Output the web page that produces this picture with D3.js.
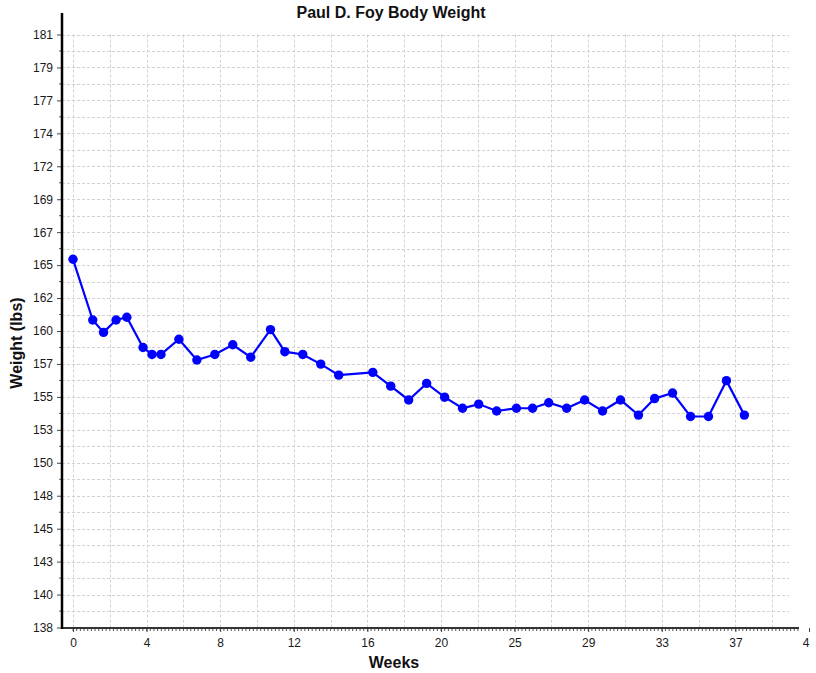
<!DOCTYPE html>
<meta charset="utf-8">

<!-- Load d3.js -->
<script src="https://d3js.org/d3.v7.min.js"></script>

<style>
  body { margin: 0; background: #fff; }
  text { font-family: "Liberation Sans", Arial, sans-serif; }
</style>

<!-- Create a div where the graph will take place -->
<div id="my_dataviz"></div>

<script>

// weekly weigh-ins
var weeks = [0, 1.1, 1.7, 2.4, 3.0, 3.9, 4.4, 4.9, 5.9, 6.9,
             7.9, 8.9, 9.9, 11.0, 11.8, 12.8, 13.8, 14.8, 16.7, 17.7,
             18.7, 19.7, 20.7, 21.7, 22.6, 23.6, 24.7, 25.6, 26.5, 27.5,
             28.5, 29.5, 30.5, 31.5, 32.4, 33.4, 34.4, 35.4, 36.4, 37.4];

var weights = [164.7, 160.3, 159.4, 160.3, 160.5, 158.3, 157.8, 157.8, 158.9, 157.4,
               157.8, 158.5, 157.6, 159.6, 158.0, 157.8, 157.1, 156.3, 156.5, 155.5,
               154.5, 155.7, 154.7, 153.9, 154.2, 153.7, 153.9, 153.9, 154.3, 153.9,
               154.5, 153.7, 154.5, 153.4, 154.6, 155.0, 153.3, 153.3, 155.9, 153.4];

// tick labels as printed on the chart
var yTickLabels = ["138", "140", "143", "145", "148", "150", "153", "155", "157", "160",
                   "162", "165", "167", "169", "172", "174", "177", "179", "181"];
var xTickLabels = ["0", "4", "8", "12", "16", "20", "25", "29", "33", "37", "41"];

var yMin = 138, yMax = 181, xMax = 41;

// append the svg object to the body of the page
var svg = d3.select("#my_dataviz")
  .append("svg")
    .attr("width", 810)
    .attr("height", 673);

var x = d3.scaleLinear().domain([0, xMax]).range([73, 809]);
var y = d3.scaleLinear().domain([yMin, yMax]).range([627.5, 34.5]);

var xStep = xMax / (xTickLabels.length - 1);
var yStep = (yMax - yMin) / (yTickLabels.length - 1);
var xTicks = xTickLabels.map(function(d, i) { return i * xStep; });
var yTicks = yTickLabels.map(function(d, i) { return yMin + i * yStep; });

// grid (major + half steps)
var gridRight = 789;
var vGrid = d3.range(0, 40).map(function(i) { return i * xStep / 2; })
  .filter(function(v) { return x(v) <= gridRight; });
var hGrid = d3.range(1, 2 * (yTickLabels.length - 1) + 1).map(function(i) { return yMin + i * yStep / 2; });

var grid = svg.append("g")
  .attr("stroke", "#d2d2d2")
  .attr("stroke-width", 1)
  .attr("stroke-dasharray", "3,2");

grid.selectAll(".v")
  .data(vGrid)
  .enter().append("line")
    .attr("x1", function(d) { return Math.round(x(d)) + 0.5; })
    .attr("x2", function(d) { return Math.round(x(d)) + 0.5; })
    .attr("y1", y(yMax))
    .attr("y2", y(yMin));

grid.selectAll(".h")
  .data(hGrid)
  .enter().append("line")
    .attr("x1", 62)
    .attr("x2", gridRight)
    .attr("y1", function(d) { return Math.round(y(d)) + 0.5; })
    .attr("y2", function(d) { return Math.round(y(d)) + 0.5; });

// minor ticks on the x axis
var xMinor = d3.range(0, 40.45, xStep / 20);
svg.append("g")
  .selectAll("line")
  .data(xMinor)
  .enter().append("line")
    .attr("x1", function(d) { return x(d); })
    .attr("x2", function(d) { return x(d); })
    .attr("y1", 628)
    .attr("y2", 631)
    .attr("stroke", "#555")
    .attr("stroke-width", 1);

// minor ticks on the y axis
svg.append("g")
  .selectAll("line")
  .data(hGrid.filter(function(d, i) { return i % 2 === 0; }))
  .enter().append("line")
    .attr("x1", 59)
    .attr("x2", 62)
    .attr("y1", function(d) { return y(d); })
    .attr("y2", function(d) { return y(d); })
    .attr("stroke", "#555");

// X axis
var xAxis = svg.append("g")
  .attr("transform", "translate(0,628)")
  .call(d3.axisBottom(x)
    .tickValues(xTicks)
    .tickFormat(function(d, i) { return xTickLabels[i]; })
    .tickSize(4)
    .tickPadding(6));
xAxis.select(".domain").remove();
xAxis.selectAll("line").attr("stroke", "#444");
xAxis.selectAll("text").attr("font-size", 12).attr("fill", "#1a1a1a")
  .style("font-family", "'Liberation Sans', Arial, sans-serif");

// Y axis
var yAxis = svg.append("g")
  .attr("transform", "translate(62,0)")
  .call(d3.axisLeft(y)
    .tickValues(yTicks)
    .tickFormat(function(d, i) { return yTickLabels[i]; })
    .tickSize(5)
    .tickPadding(4));
yAxis.select(".domain").remove();
yAxis.selectAll("line").attr("stroke", "#444");
yAxis.selectAll("text").attr("font-size", 12).attr("fill", "#1a1a1a")
  .style("font-family", "'Liberation Sans', Arial, sans-serif");

// axis lines
svg.append("line")
  .attr("x1", 62).attr("x2", 799)
  .attr("y1", 628).attr("y2", 628)
  .attr("stroke", "#333").attr("stroke-width", 2);
svg.append("line")
  .attr("x1", 62).attr("x2", 62)
  .attr("y1", 13).attr("y2", 629)
  .attr("stroke", "#000").attr("stroke-width", 2.5);

// the series
var points = weeks.map(function(w, i) { return {week: w, weight: weights[i]}; });

svg.append("path")
  .datum(points)
  .attr("fill", "none")
  .attr("stroke", "#0000ff")
  .attr("stroke-width", 2.2)
  .attr("d", d3.line()
    .x(function(d) { return x(d.week); })
    .y(function(d) { return y(d.weight); }));

svg.selectAll(".dot")
  .data(points)
  .enter().append("circle")
    .attr("cx", function(d) { return x(d.week); })
    .attr("cy", function(d) { return y(d.weight); })
    .attr("r", 4.7)
    .attr("fill", "#0000ff");

// titles
svg.append("text")
  .attr("x", 391)
  .attr("y", 18)
  .attr("text-anchor", "middle")
  .attr("font-size", 16)
  .attr("font-weight", "bold")
  .attr("fill", "#111")
  .text("Paul D. Foy Body Weight");

svg.append("text")
  .attr("x", 394)
  .attr("y", 668)
  .attr("text-anchor", "middle")
  .attr("font-size", 16)
  .attr("font-weight", "bold")
  .attr("fill", "#111")
  .text("Weeks");

svg.append("text")
  .attr("transform", "translate(22,343) rotate(-90)")
  .attr("text-anchor", "middle")
  .attr("font-size", 16)
  .attr("font-weight", "bold")
  .attr("fill", "#111")
  .text("Weight (lbs)");

</script>
